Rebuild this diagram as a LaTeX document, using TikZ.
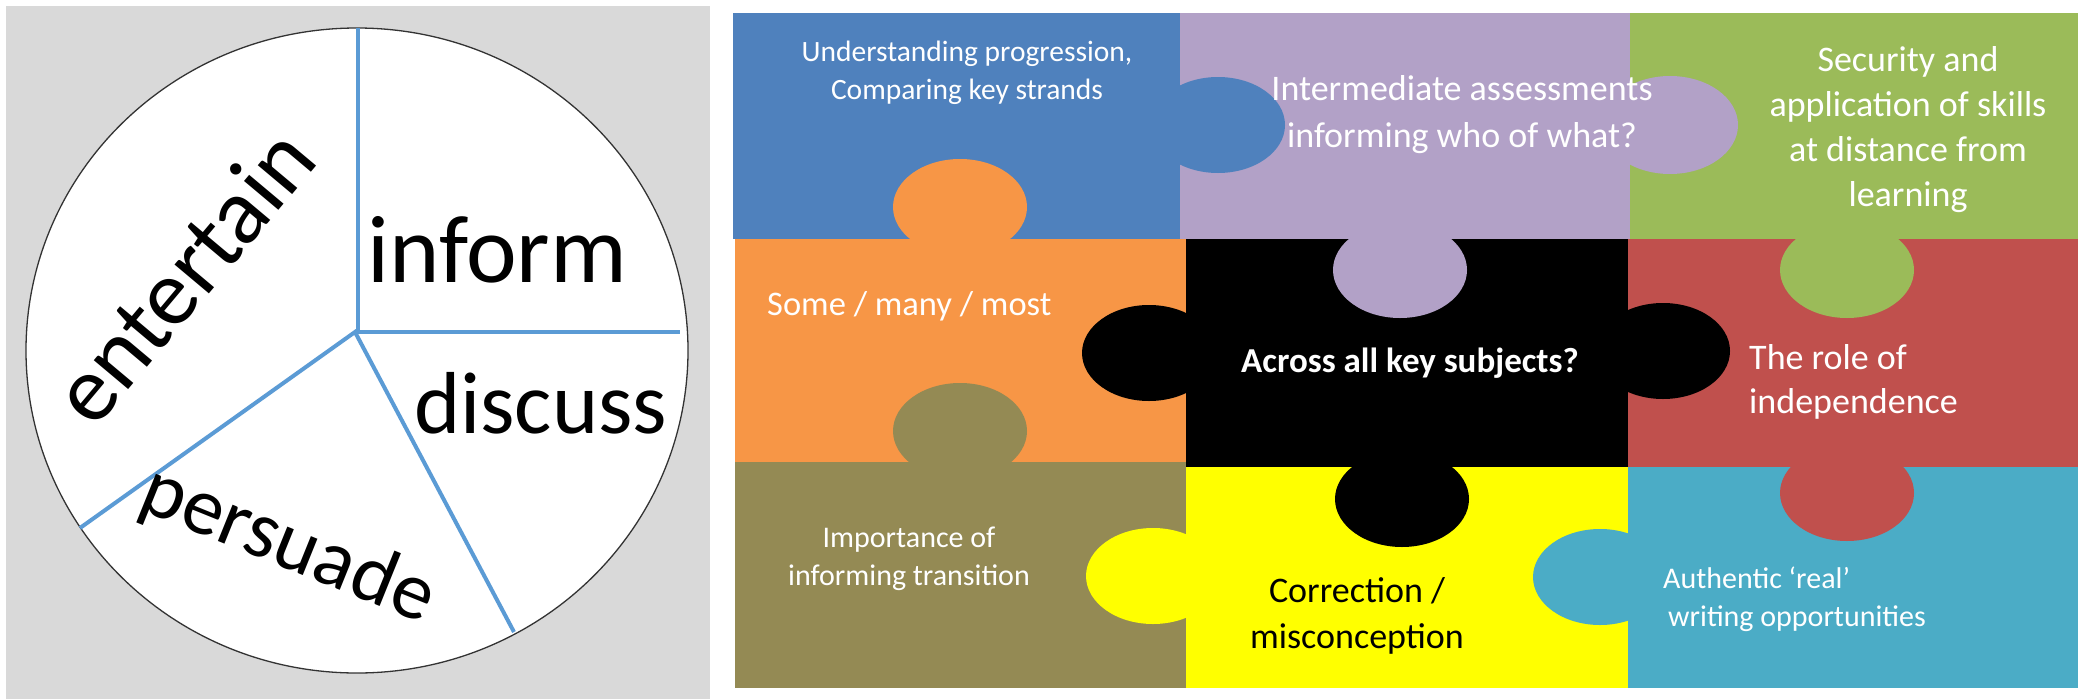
\documentclass[tikz,border=0pt]{standalone}
\usepackage{fontspec}
\setmainfont{Carlito}
\definecolor{panelgray}{HTML}{D9D9D9}
\definecolor{divblue}{HTML}{5B9BD5}
\definecolor{pblue}{HTML}{4F81BD}
\definecolor{ppurple}{HTML}{B2A1C7}
\definecolor{pgreen}{HTML}{9BBB59}
\definecolor{porange}{HTML}{F79646}
\definecolor{pred}{HTML}{C0504D}
\definecolor{polive}{HTML}{948A54}
\definecolor{pyellow}{HTML}{FFFF00}
\definecolor{pteal}{HTML}{4BACC6}
\begin{document}
\begin{tikzpicture}[x=1pt,y=-1pt,
  divline/.style={draw=divblue, line width=4pt},
  bigword/.style={inner sep=0pt, anchor=base west, font=\fontsize{#1}{#1}\selectfont},
  knob/.style={fill=#1, draw=none},
  ptext/.style={inner sep=0pt, text=white, anchor=base, align=center},
  ltext/.style={inner sep=0pt, text=white, anchor=base west, align=left},
]
\useasboundingbox (0,0) rectangle (2082,699);
\fill[white] (0,0) rectangle (2082,699);
% ---------- left panel ----------
\fill[panelgray] (6,6) rectangle (710,699);
\draw[fill=white, draw=black!80, line width=1.3pt] (357,350.5) ellipse [x radius=331, y radius=322.5];
\coordinate (top) at (358,28);
\coordinate (corner) at (358,332);
\coordinate (hub) at (355,332);
\coordinate (rightend) at (680,332);
\coordinate (llend) at (80,528);
\coordinate (lrend) at (514,632);
\draw[divline] (top) -- (corner) -- (rightend);
\draw[divline] (llend) -- (hub) -- (lrend);
\node[bigword=96] (inform) at (367,282) {inform};
\node[bigword=88] (discuss) at (414,433) {discuss};
\node[bigword=94, rotate=50] (entertain) at (94,431) {entertain};
\node[bigword=82, rotate=-22] (persuade) at (136,508) {persuade};
% ---------- puzzle pieces ----------
\fill[pblue]   (733,13)  rectangle (1180,239);
\fill[ppurple] (1180,13) rectangle (1630,239);
\fill[pgreen]  (1630,13) rectangle (2078,239);
\fill[porange] (735,239) rectangle (1186,462);
\fill[black]   (1186,239) rectangle (1628,467);
\fill[pred]    (1628,239) rectangle (2078,467);
\fill[polive]  (735,462) rectangle (1186,688);
\fill[pyellow] (1186,467) rectangle (1628,688);
\fill[pteal]   (1628,467) rectangle (2078,688);
% ---------- knobs ----------
\fill[knob=pblue]   (1218,125) ellipse [x radius=67, y radius=48];
\fill[knob=ppurple] (1670,125) ellipse [x radius=68, y radius=49];
\fill[knob=porange] (960,207)  ellipse [x radius=67, y radius=48];
\fill[knob=ppurple] (1400,270) ellipse [x radius=67, y radius=48];
\fill[knob=black]   (1149,353) ellipse [x radius=67, y radius=48];
\fill[knob=pgreen]  (1847,270) ellipse [x radius=67, y radius=48];
\fill[knob=black]   (1663,351) ellipse [x radius=67, y radius=48];
\fill[knob=polive]  (960,431)  ellipse [x radius=67, y radius=48];
\fill[knob=black]   (1402,499) ellipse [x radius=67, y radius=48];
\fill[knob=pred]    (1847,493) ellipse [x radius=67, y radius=48];
\fill[knob=pyellow] (1153,576) ellipse [x radius=67, y radius=48];
\fill[knob=pteal]   (1600,577) ellipse [x radius=67, y radius=48];
% ---------- texts (anchor base = baseline of the last line) ----------
\node[ptext, font=\fontsize{29.5}{38}\selectfont] (understanding) at (967,99) {Understanding progression,\\Comparing key strands};
\node[ptext, font=\fontsize{36}{47}\selectfont] (intermediate) at (1462,147) {Intermediate assessments\\informing who of what?};
\node[ptext, font=\fontsize{36}{45}\selectfont] (security) at (1908,206) {Security and\\application of skills\\at distance from\\learning};
\node[ltext, font=\fontsize{34.5}{40}\selectfont] (some) at (767,315) {Some / many / most};
\node[ptext, font=\fontsize{35}{42}\selectfont\bfseries] (across) at (1410,372) {Across all key subjects?};
\node[ltext, font=\fontsize{36}{44}\selectfont] (role) at (1749,413) {The role of\\independence};
\node[ptext, font=\fontsize{30}{38}\selectfont] (importance) at (909,585) {Importance of\\informing transition};
\node[ptext, text=black, font=\fontsize{36}{46}\selectfont] (correction) at (1357,648) {Correction /\\misconception};
\node[ltext, font=\fontsize{30}{38}\selectfont] (authentic) at (1663,626) {Authentic ‘real’\\\hspace*{5pt}writing opportunities};
\end{tikzpicture}
\end{document}
